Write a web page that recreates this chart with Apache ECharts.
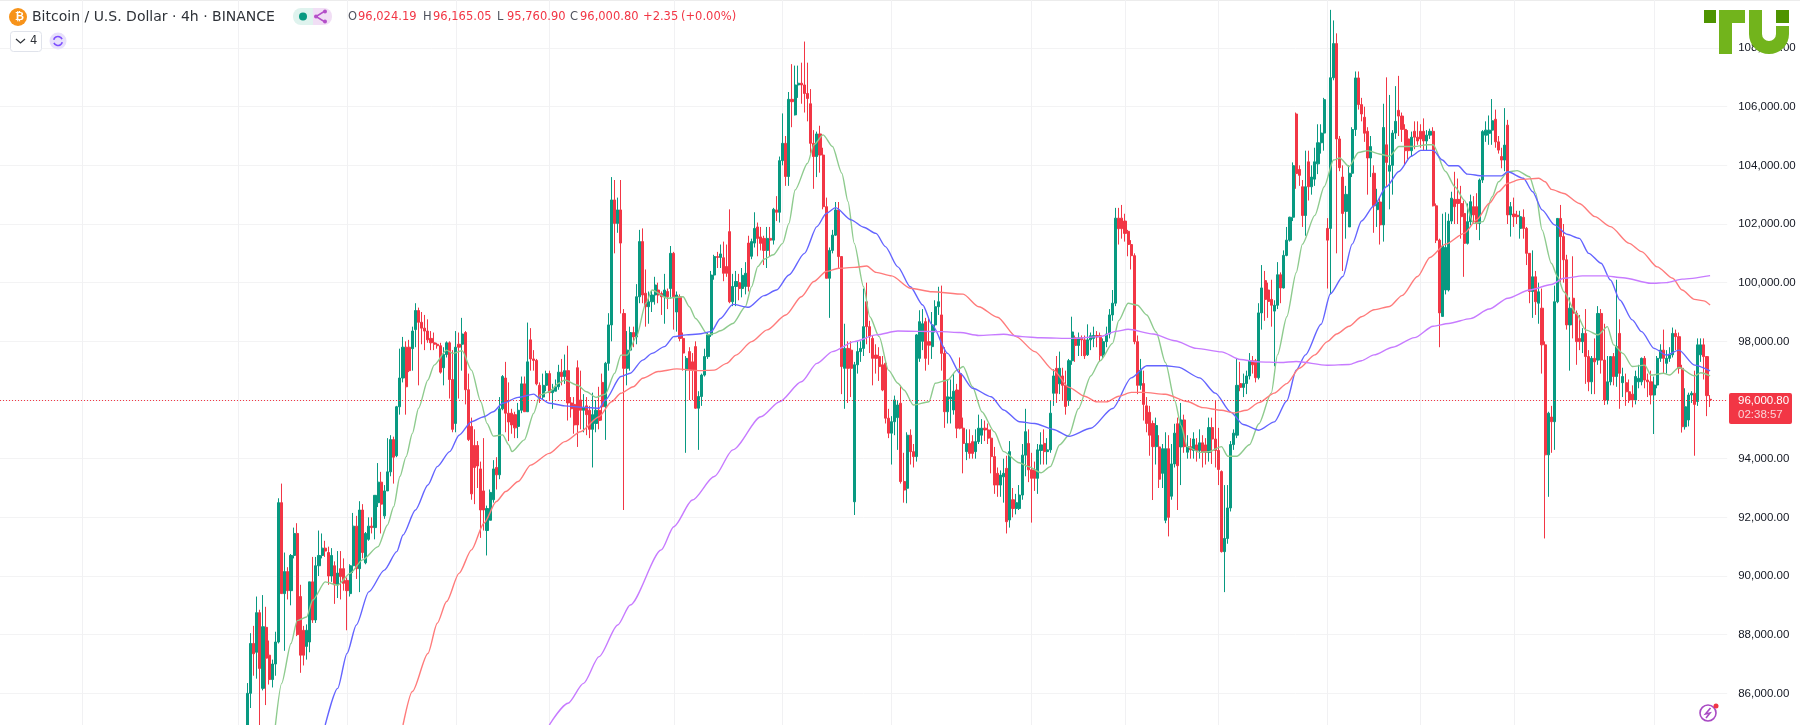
<!DOCTYPE html>
<html>

<head>
    <meta charset="utf-8">
    <title>Bitcoin / U.S. Dollar</title>
    <style>
        html, body { margin: 0; padding: 0; background: #fff; }
        #main { width: 1800px; height: 725px; }
    </style>
</head>

<body>
    <div id="main"></div>
    <script src="https://cdn.jsdelivr.net/npm/echarts@6/dist/echarts.min.js" charset="utf-8"></script>
    <script>
    // candles, [open, close, low, high]
    var barsA = [[84900,86000,84800,86350],[86000,87700,85500,88050],[87700,87350,86600,88300],[87400,88750,86500,89300],[88750,86850,84900,88850],[86170,88270,86100,89350],[88250,87200,85600,88950],[87300,86470,86300,87800],[86470,87000,86200,87150],[87000,87750,86600,88100],[87750,92500,87700,92650],[92500,89400,89400,93150],[89400,90150,87450,90800],[90150,89500,89200,90300],[89500,90700,89000,90750],[90700,91450,90600,91650],[91450,88000,87950,91800],[89300,87300,86700,89700],[88150,87300,86950,88300],[87600,88150,87150,88350],[87750,89800,87400,89800],[89800,88500,88400,90650],[88500,90350,88400,90650],[90350,90700,90000,91550],[90700,90950,90600,91450],[90950,90850,90650,91200],[90800,90000,89700,91000],[90000,90700,89800,90950],[90350,89700,89050,90500],[89700,90100,89250,90850],[90250,89980,89200,90850],[90250,89750,89500,90600]];
    var barsB = [[89850,89500,88150,89950],[89400,90350,89300,90400],[90350,91700,90100,92150],[91700,90250,89900,92050],[90250,92250,89450,92550],[92250,90800,90600,92450],[90450,91450,90400,91500],[91250,91700,91200,92000],[91700,91650,91450,92000],[91650,92750,91250,92750],[92500,93200,92350,93850],[93200,92450,91450,93550],[92050,92900,91950,93100],[92900,93550,92900,94700],[93550,94650,93400,94800],[94650,94050,93150,94750],[94100,95770,94050,95800],[95770,96750,95500,97750],[96750,97800,96600,98150],[97800,96450,95500,98000],[97800,97000,96950,98050],[97750,98350,97000,98500],[98400,99050,97800,99300],[99050,98650,96500,99150],[98650,98450,97900,99000],[98450,98350,97700,98900],[98350,98050,97950,98750],[98100,97950,97700,98350],[97950,97900,97700,98300],[97900,97850,97750,97950],[97850,96950,96900,97950],[97100,97550,96500,97800],[97550,97950,97450,98000],[97950,96700,96050,98000],[96700,95000,94900,97700]];
    var barsC = [[95200,97800,94900,98350],[97900,97800,96050,98300],[97900,98250,97000,98800],[98300,96350,95850,98350],[96350,94650,94600,96900],[95100,92800,92600,95400],[94450,93700,92450,95000],[94450,93750,93000,94600],[93650,92250,91300,93900],[92900,92250,91550,94700],[91550,92300,90700,92400],[91900,92850,91900,92950],[92600,93650,92500,93950],[93700,93450,92950,94050],[93450,95700,93300,96100],[95700,96800,95650,96850],[96750,95550,94900,97300],[95550,95250,94600,96600],[95550,95150,94850,95700],[95500,95050,94700,95600],[95100,95650,94700,95900],[95650,96550,95550,96800],[96550,95600,95600,96800],[95600,97300,95600,98640],[98050,97400,97000,98450],[97400,97350,97000,97700],[97350,96550,96500,97400],[96500,96050,95900,96600],[96100,96500,96000,96900],[96500,96900,96300,97000]];
    var barsD = [[96900,96250,96000,97000],[96250,96350,95700,96550],[96300,96450,96300,96700],[96450,96950,96350,97200],[96950,96800,96500,97400],[96800,97000,96550,97550],[97000,95900,95300,97850],[95900,95700,95400,96100],[95850,95150,94850,96100],[97100,95150,94400,97350],[96000,95650,95000,97000],[95650,95750,94900,96200],[95800,95500,94800,96100],[95650,95000,94700,95800],[95000,95500,93700,96250],[95200,95650,94900,96000],[95650,95300,95000,96450],[96600,95770,95300,96900],[95770,97250,94640,97300],[97250,98560,97000,98960],[98560,102820,98000,103600],[102820,102020,101000,103500],[102020,102480,101700,102900],[102480,101350,98950,103500],[98950,97080,92250,99100],[97080,97700,96500,98350],[97700,98300,97000,98500],[98300,98150,97800,98500],[98150,99520,97900,99950],[99520,101400,99300,101800],[101400,99580,99300,101850],[99640,99180,98500,100450],[99180,99350,98600,99700],[99350,99580,99000,99750],[99580,99920,99250,100200],[99750,99580,99300,100000],[99630,99520,98900,99700],[99520,99750,98600,100300],[99700,99520,99100,99800],[99800,101000,99450,101250]];
    var barsE = [[101000,99520,98400,101050],[99000,99580,98330,99700],[99520,98100,98000,99600],[98100,97600,97000,98300],[97020,97420,94200,97500],[97650,97020,96000,97800],[97300,97020,96000,97600],[97820,95720,95700,98000],[95720,96120,94300,96300],[96120,96850,95800,96900],[96850,97480,96800,97750],[97480,98220,97400,98300],[98220,100260,98150,100400],[100260,100890,100100,100950],[100890,100860,100500,101050],[100860,100980,100500,101300],[100850,100320,100050,101400],[100550,100320,100200,101300],[101740,99350,99300,102500],[99350,99870,99200,100300],[99870,100040,99200,100400],[100000,99800,99400,100300],[99800,100250,99500,100500],[99870,100320,99600,100700],[101350,99870,99700,101600],[100900,101400,100800,101500],[101350,101850,101200,102400],[101900,101510,100900,102050],[101560,101340,101100,101900],[101510,101100,100600,101600],[101100,101510,100500,101900],[101510,101450,100900,101900],[101450,102500,101300,102550],[102480,102400,102100,102950],[102400,104160,102050,104300]];
    var barsF = [[104160,104750,104000,105770],[104750,103620,103300,105000],[103620,106250,103300,106500],[106250,106170,105300,107450],[105720,106740,105700,107400],[106740,106800,106300,107400],[106800,106740,106100,107500],[106740,106450,105800,108220],[106450,106280,105500,107500],[106100,104750,104400,106600],[104750,104300,103200,105200],[104300,105070,103600,105150],[105070,104350,103750,105350],[104350,102590,102500,104600],[102590,100150,100150,102900],[100150,101100,98800,101200],[101100,101620,101000,101800],[101620,102480,101600,102750],[102480,100890,100500,102750],[100890,97140,96200,100900],[97080,97760,95700,98600],[97760,97080,95900,98000],[97700,97080,96100,98000],[92530,97200,92080,97300],[97200,97650,96900,98000],[97650,97760,97300,98000],[97760,98500,97500,99800],[99350,98500,97900,100000],[98500,98160,97600,98700],[98100,97420,96500,98200],[97530,97420,96900,97900],[97480,97140,96650,97800],[97200,96340,96300,97500],[97250,95380,95200,97300],[95380,94870,94700,95700]];
    var barsG = [[94870,95260,93800,95450],[95260,96000,94800,96150],[95400,95830,94300,96000],[95890,93220,93150,96500],[93220,92930,92500,94200],[92990,94800,92480,94900],[94800,94240,93800,95000],[94240,94070,93700,94500],[94070,98220,93900,98250],[97420,98670,97300,99060],[98000,98600,97700,99100],[98670,97420,97000,98800],[97990,97870,97200,98800],[97820,98560,97400,99000],[98560,99180,98300,99400],[99180,99350,98900,99860],[98900,97590,97000,99900],[97590,95600,95050,97800],[95600,96110,95200,96700],[96040,96100,95200,96700],[95660,96300,95500,96900],[96340,95040,94700,96550],[96900,95040,95000,97450],[95040,94520,93500,95400],[94240,94520,93950,95000],[94520,94180,94000,95000],[94580,94180,94000,94800],[94240,94580,94000,95000],[94580,95040,94500,95500],[94800,95040,94500,95350],[95040,94980,94600,95300],[94980,94700,94500,95200],[94700,94070,93500,95000],[94070,93100,92800,94400],[93500,93100,92700,93700],[93100,93440,92700,93600],[93380,93500,92500,94000],[93670,91850,91450,94100],[91910,94240,91650,94600],[92600,92300,92000,93000],[92300,92500,92100,92800],[92300,92760,92250,93100],[92760,94120,92600,94500],[94120,94920,93400,95700],[94520,93620,93200,95000]];
    var barsH = [[93620,93330,91820,94200],[93620,93330,92900,93900],[93330,94300,92800,94500],[94280,94470,93800,94900],[94520,94240,93800,95000],[94240,94300,93800,94700],[94300,95550,94200,96000],[96230,96820,95800,97050],[97080,96230,95900,97500],[96550,97080,96200,97650],[96820,96500,96000,97100],[96500,95780,95500,97000],[95980,97340,95800,97400],[97340,98320,97200,98840],[98120,97860,97300,98200],[97860,98120,97500,98300],[98120,98050,97500,98200],[98050,97510,97400,98200],[97540,98050,97500,98580],[98050,98190,97700,98300],[98100,98200,97800,98500],[98200,98150,97800,98350],[98190,97510,97300,98300],[97530,97990,97400,98100],[97990,98250,97800,98500],[98250,98900,98100,99100],[98900,99300,98700,99750],[99300,102200,99200,102550]];
    var barsI = [[102200,101840,101300,102550],[102200,101840,101500,102650],[102100,101680,101400,102350],[101750,101300,100900,101800],[101300,100920,100450,101450],[100920,97990,97900,101000],[97990,96500,96200,98200],[96500,97010,96350,97400],[96560,95850,95300,97000],[95800,95200,94900,96100],[95580,94800,94100,95800],[95200,94410,92590,95300],[94410,95130,93800,95400],[94400,93300,93000,94800],[93500,94340,93000,94500],[91900,94340,91800,94900],[94340,92000,91350,94800],[92720,93820,92600,94500],[93820,94870,93700,95190],[95190,93760,92250,95400],[94400,95320,93100,95900],[95320,94410,94200,95500],[94220,94410,94000,94800],[94410,94300,94000,94700],[94280,94670,94000,94900],[94470,94280,93900,94700],[94280,94540,94000,95000],[94540,94210,93700,94800],[94470,94210,93800,94700],[94210,95060,93900,95400],[95060,94670,93820,95400],[94670,94280,93700,96000],[94280,93630,93100,95050]];
    var barsJ = [[93560,90830,90800,93600],[90830,91280,89450,93100],[91280,92320,91100,93100],[92320,94480,92200,94600],[94480,94870,94300,95000],[94800,96500,94700,97400],[96560,96430,96300,97300],[96430,96560,96100,96900],[96560,96820,96200,97000],[96820,97340,96700,97600],[97340,97200,96900,97500],[97340,96760,96600,97400],[96760,98970,96700,99300],[98970,99820,98400,100600],[100070,99430,98700,100400],[99750,99360,98800,100000],[99430,99230,98500,100100],[99030,99230,97150,99400],[99230,100270,99100,100700],[100270,99820,99300,100350],[99820,100930,99800,101100],[100930,101450,100900,101900],[101450,102230,101400,102250],[102230,103990,102100,104100],[105750,103720,103200,105800],[103860,103660,103300,104000],[103270,102290,101900,103500],[102290,103270,101600,104500],[104120,103270,102800,104500],[103270,103600,103000,104000],[103530,104120,103300,104600],[104050,104770,103700,105400],[104770,105100,104400,105400],[105100,106240,104500,106300],[101850,101450,99800,102200]];
    var barsK = [[101850,106985,99600,109300],[106985,108150,106900,108940],[108150,104900,101000,108500],[104900,103920,103800,105000],[103600,102360,100400,104000],[102430,103010,101500,103300],[101900,103730,101900,104000],[103730,105220,103600,105300],[105220,106980,105000,107200],[106980,106070,105900,107200],[106070,105750,105500,106300],[105640,105095,104800,106000],[105160,104250,103000,105300],[104250,104640,103600,105000],[103730,102620,101700,104000],[102489,102750,101900,103200],[102750,101970,101300,102900],[101970,105290,101400,106100],[104700,104100,103300,107000],[103800,104000,102500,106400],[104000,105100,103000,105200],[105100,105500,104900,106700],[105875,105680,105000,107050],[105680,105225,104800,105800],[105225,104500,104000,105400],[104900,104500,104200,105200],[104500,104960,104300,105150],[105160,104960,104550,105500],[104960,104830,104700,105500],[105160,104900,104600,105400],[105160,104830,104500,105600],[104830,105030,104500,105200],[105030,105160,104900,105250]];
    var barsL = [[105160,102620,102600,105300],[102620,101450,101350,102700],[101450,98970,97800,101500],[98850,101250,98850,102350],[99750,101200,99600,102400],[99750,102100,99700,102350],[102100,102880,102000,103100],[102840,102590,102000,103780],[102840,102700,102000,103550],[102700,102250,101500,103300],[102360,101340,100200,102800],[101340,102080,101300,102700],[102080,102760,101950,103000],[102590,102310,102000,102950],[102590,102020,101800,103050],[102020,103500,101450,103550],[103500,105150,103400,105200],[105030,105200,104800,105500],[105090,105200,104700,105700],[105200,105520,104700,106260],[105570,104800,104600,105900],[104800,104520,104400,105000],[104300,104180,103900,104600],[104180,104690,103800,105950],[105370,102310,102000,105550],[102310,102590,101570,102750],[102340,102250,101900,102900],[102300,102250,102000,102450],[101850,102250,101500,102450],[102230,101850,101500,102500]];
    var barsM = [[101850,101000,100600,101900],[101000,99700,99300,101000],[99700,100200,98800,101100],[100200,99350,98900,100400],[99300,99690,98600,100000],[99130,97880,96900,99800],[97880,94130,91280,98000],[94130,95550,92700,95600],[95420,95260,94200,95800],[95260,99350,94300,99900],[99350,102190,99300,102200],[102190,101570,100000,102650],[101570,100780,100000,102000],[100780,98560,98400,100950],[98560,99130,97000,99500],[99470,98960,98100,100900],[98960,97990,97200,99050],[98100,97990,97700,98900],[97990,98270,97600,98450],[98270,97480,96550,99100],[97480,96620,96300,97700],[96620,97420,96200,97500],[97420,97300,96200,98100],[97360,98950,97200,99200],[98950,97360,96900,99100],[97360,96000,95830,98600],[96000,96620,95850,97500],[96620,97480,96500,97500],[97480,96800,96500,97600],[96800,97820,96450,100100],[98270,96910,95700,98750],[96590,96800,96100,97100],[96590,96280,95800,96900],[96280,96000,95900,96700],[96200,96000,95750,96500],[96000,96800,95850,97000],[96620,96740,96400,97200],[96620,97420,96500,97450],[97420,96680,96400,97500],[96680,96620,96100,96900],[96620,96170,95850,97000],[96170,96510,94840,96800],[96510,97420,96400,97500],[97420,97700,97300,97900],[97700,97420,96900,98400]];
    var barsN = [[97250,97420,96900,97700],[97420,97540,97300,97800],[97540,98270,97450,98470],[98270,98160,97700,98400],[98160,97080,96900,98300],[97080,95090,94890,97200],[95090,95770,94990,96400],[95320,96170,95100,96250],[96170,96230,95900,96300],[96230,95850,94100,97000],[95950,97880,95800,98100],[97540,97880,97300,98100],[97880,97480,96700,98100],[97480,96150,95450,97500],[96024.19,96000.80,95760.90,96165.05]];

    // moving averages as [bar, price], read at the bends of each line
    var maGreen = [[9,84920],[11,86340],[14,87700],[16,88480],[19,88600],[21,89180],[25,89800],[29,89690],[33,90090],[37,90550],[42,91000],[45,91740],[47,92360],[49,93390],[51,94070],[53,94860],[55,95720],[58,96680],[60,97190],[64,97700],[66,97590],[69,97680],[72,97020],[75,95940],[77,95200],[79,94770],[82,94810],[84,94470],[85,94240],[89,94640],[92,95550],[94,96170],[97,96280],[100,96570],[102,96680],[106,96510],[109,96280],[112,96090],[115,96200],[118,96910],[120,97530],[122,97530],[125,98160],[128,99290],[130,99750],[135,99470],[140,99520],[142,99180],[144,98780],[148,98220],[150,98270],[152,98360],[156,98610],[160,99180],[162,99860],[164,100550],[166,100800],[169,100950],[172,101340],[174,102020],[176,103160],[180,104070],[182,104690],[185,105040],[188,104640],[191,103730],[193,102760],[195,101340],[198,99860],[200,98840],[203,98160],[206,97020],[209,96570],[211,96340],[214,95830],[219,95940],[221,96570],[225,96680],[228,97020],[230,97140],[233,96450],[236,95600],[240,94920],[243,94240],[248,93860],[251,93730],[255,93520],[258,93730],[261,94475],[264,94800],[267,95700],[271,96820],[274,97340],[278,97930],[280,98710],[283,99300],[286,99230],[289,98900],[292,98320],[295,97275],[298,95975],[300,95130],[302,94410],[306,94215],[309,94240],[313,94410],[315,94085],[318,94085],[322,94475],[325,95190],[329,96235],[331,97540],[334,98840],[337,100340],[339,101315],[343,102295],[346,103270],[349,104180],[351,104250],[354,103960],[357,104440],[360,104500],[364,104380],[367,104310],[370,104640],[375,104640],[379,104700],[381,104700],[385,103790],[388,103270],[391,102815],[394,102020],[397,102080],[400,102930],[402,103440],[405,103780],[408,103820],[412,103610],[414,103040],[416,101800],[419,100660],[421,100200],[423,99690],[427,98950],[430,98390],[434,98220],[437,98500],[439,97880],[442,97590],[445,97140],[449,97190],[451,96850],[455,96910],[457,96850],[460,97110],[465,96820],[467,96930],[470,96820]];
    var maBlue = [[25,84920],[29,86170],[32,87360],[35,88330],[39,89460],[44,90200],[48,90830],[50,91400],[54,92250],[58,93100],[61,93730],[65,94240],[68,94800],[72,95260],[76,95430],[79,95600],[82,95890],[87,96090],[92,96200],[94,96060],[97,95890],[102,95800],[108,95750],[113,95720],[115,96000],[120,96800],[123,96910],[127,97360],[130,97590],[134,97820],[137,98160],[141,98220],[145,98250],[149,98330],[152,98780],[156,99260],[161,99160],[166,99560],[170,99750],[174,100260],[179,101000],[183,101910],[186,102360],[189,102560],[194,102140],[198,101890],[202,101680],[205,101230],[209,100540],[213,99860],[217,99240],[220,98560],[225,97590],[229,96910],[233,96400],[239,96110],[243,95660],[248,95260],[253,95200],[259,94995],[264,94760],[271,95035],[278,95710],[284,96755],[289,97170],[295,97170],[299,97120],[306,96755],[311,96235],[316,95585],[320,95165],[325,94970],[330,95255],[334,95975],[337,97015],[340,97540],[345,98580],[348,99620],[352,100210],[355,101315],[358,102100],[362,102620],[366,103270],[370,103790],[374,104310],[377,104510],[381,104510],[384,104180],[386,103985],[389,103985],[392,103700],[397,103640],[403,103640],[405,103780],[410,103560],[413,103100],[416,102480],[420,101970],[424,101650],[428,101510],[431,101000],[435,100660],[438,100090],[441,99410],[445,98730],[448,98330],[452,97760],[456,97530],[460,97700],[465,97190],[470,96990]];
    var maRed = [[50,84920],[53,86060],[58,87360],[61,88390],[64,89130],[68,90090],[72,90890],[76,91800],[80,92540],[83,92880],[87,93220],[91,93780],[97,94180],[102,94580],[107,94920],[113,95430],[117,95940],[120,96230],[124,96450],[127,96740],[132,96970],[138,97060],[145,97000],[150,97020],[154,97250],[157,97530],[162,97990],[167,98390],[173,98900],[178,99520],[182,100040],[186,100380],[190,100490],[195,100520],[199,100570],[202,100350],[207,100230],[213,99810],[220,99690],[230,99610],[235,99180],[241,98820],[247,98160],[253,97650],[259,97015],[264,96430],[269,96130],[273,95935],[276,95935],[280,96130],[284,96260],[288,96260],[295,96195],[302,95950],[307,95740],[313,95650],[317,95560],[321,95650],[325,95910],[330,96235],[334,96560],[338,97080],[343,97540],[347,97990],[350,98250],[354,98515],[358,98840],[362,99075],[367,99190],[371,99560],[376,100210],[380,100860],[385,101315],[391,101680],[395,102140],[399,102700],[402,103100],[405,103390],[409,103520],[415,103560],[417,103440],[419,103180],[423,103040],[428,102700],[433,102250],[438,101910],[444,101340],[448,101060],[453,100540],[458,100150],[461,99750],[465,99430],[468,99380],[470,99240]];
    var maPurple = [[97,84920],[103,85660],[108,86340],[113,87250],[119,88330],[123,89010],[133,90890],[137,91680],[143,92590],[150,93390],[156,94300],[165,95430],[171,95940],[178,96620],[183,97250],[188,97650],[195,97990],[202,98220],[209,98350],[216,98340],[223,98330],[229,98300],[235,98200],[243,98240],[249,98160],[255,98120],[265,98100],[274,98160],[279,98340],[283,98410],[291,98250],[298,98020],[305,97760],[313,97640],[319,97380],[325,97300],[332,97280],[337,97315],[347,97185],[354,97210],[358,97340],[362,97540],[368,97800],[375,98125],[381,98515],[386,98610],[393,98775],[399,99100],[405,99470],[412,99750],[419,99940],[423,100150],[429,100230],[436,100230],[442,100170],[451,99980],[456,100000],[461,100120],[470,100240]];

    var lastPrice = 96000.80;
    var priceTicks = [84000, 110000, 2000];
    var firstBar = 79;
    var barCount = 555;
    var weekBars = [26, 76, 111, 146, 176, 216, 251, 286, 331, 361, 391, 426, 456, 486, 531];
    var ohlcLabels = [['O', '96,024.19', 348], ['H', '96,165.05', 423], ['L', '95,760.90', 497], ['C', '96,000.80', 570]];

    var candles = barsA.concat(barsB, barsC, barsD, barsE, barsF, barsG, barsH, barsI, barsJ, barsK, barsL, barsM, barsN);
    var categories = [];
    for (var i = 0; i < barCount; i++) categories.push(String(i));
    var padded = [];
    for (var j = 0; j < firstBar; j++) padded.push('-');
    padded = padded.concat(candles);

    function maSeries(points, color) {
        return {
            type: 'line',
            data: points.map(function (p) { return [p[0] + firstBar, p[1]]; }),
            smooth: 0.25,
            smoothMonotone: 'x',
            showSymbol: false,
            silent: true,
            lineStyle: { color: color, width: 1.4 },
            z: 3
        };
    }

    function txt(text, x, y, fill, font) {
        return { type: 'text', silent: true, z: 20, style: { text: text, x: x, y: y, fill: fill, font: font, textVerticalAlign: 'middle' } };
    }

    function box(x, y, w, h, fill, r) {
        return { type: 'rect', silent: true, z: 19, shape: { x: x, y: y, width: w, height: h, r: r || 0 }, style: { fill: fill } };
    }

    var uiFont = '"DejaVu Sans", sans-serif';
    var header = [
        { type: 'line', silent: true, shape: { x1: 0, y1: 0.5, x2: 1800, y2: 0.5 }, style: { stroke: '#ececec', lineWidth: 1 } },
        { type: 'circle', silent: true, z: 19, shape: { cx: 18, cy: 17, r: 9 }, style: { fill: '#f7931a' } },
        txt('₿', 15, 17, '#ffffff', 'bold 11px ' + uiFont),
        txt('Bitcoin / U.S. Dollar · 4h · BINANCE', 32, 17, '#2e3238', '14px ' + uiFont),
        box(293, 8, 20, 17, '#dff3ee', [8, 0, 0, 8]),
        box(313, 8, 19, 17, '#f1def5', [0, 8, 8, 0]),
        { type: 'circle', silent: true, z: 20, shape: { cx: 303, cy: 16.5, r: 4 }, style: { fill: '#089981' } },
        { type: 'polyline', silent: true, z: 20, shape: { points: [[325, 11], [316, 16.5], [325, 22]] }, style: { stroke: '#b44fc9', lineWidth: 1.5, fill: 'none' } },
        { type: 'circle', silent: true, z: 20, shape: { cx: 325, cy: 11.5, r: 2 }, style: { fill: '#b44fc9' } },
        { type: 'circle', silent: true, z: 20, shape: { cx: 316, cy: 16.5, r: 2 }, style: { fill: '#b44fc9' } },
        { type: 'circle', silent: true, z: 20, shape: { cx: 325, cy: 21.5, r: 2 }, style: { fill: '#b44fc9' } },
        { type: 'rect', silent: true, z: 19, shape: { x: 10.5, y: 31.5, width: 31, height: 20, r: 3 }, style: { fill: '#fff', stroke: '#e0e3eb' } },
        { type: 'polyline', silent: true, z: 20, shape: { points: [[16, 39], [20.5, 43], [25, 39]] }, style: { stroke: '#2e3238', lineWidth: 1.2, fill: 'none' } },
        txt('4', 30, 41.5, '#2e3238', '11.5px ' + uiFont),
        { type: 'circle', silent: true, z: 19, shape: { cx: 58, cy: 41, r: 8.5 }, style: { fill: '#e7e0fb' } },
        { type: 'arc', silent: true, z: 20, shape: { cx: 58, cy: 41, r: 4.5, startAngle: 0.3, endAngle: 2.7 }, style: { stroke: '#7c4dff', lineWidth: 1.6, fill: 'none' } },
        { type: 'arc', silent: true, z: 20, shape: { cx: 58, cy: 41, r: 4.5, startAngle: 3.44, endAngle: 5.84 }, style: { stroke: '#7c4dff', lineWidth: 1.6, fill: 'none' } },
        txt('+2.35', 643, 17, '#f23645', '11.5px ' + uiFont),
        txt('(+0.00%)', 681, 17, '#f23645', '11.5px ' + uiFont),

        // logo
        box(1704, 10, 12, 13, '#4e9400'),
        box(1719, 10, 26, 13, '#72b41c'),
        box(1719, 10, 13, 44, '#72b41c'),
        box(1776, 10, 13, 13, '#4e9400'),
        box(1749, 10, 13, 24, '#72b41c'),
        box(1776, 26, 13, 8, '#72b41c'),
        { type: 'sector', silent: true, z: 19, shape: { cx: 1769, cy: 34, r: 20, r0: 7, startAngle: 0, endAngle: Math.PI, clockwise: true }, style: { fill: '#72b41c' } },

        // last price tag
        { type: 'rect', silent: true, z: 19, shape: { x: 1729, y: 393, width: 63, height: 31, r: 2 }, style: { fill: '#f23645' } },
        txt('96,000.80', 1738, 401, '#ffffff', '11.5px "Liberation Sans", sans-serif'),
        txt('02:38:57', 1738, 415, '#fbd3d7', '11.5px "Liberation Sans", sans-serif'),

        // bolt badge
        { type: 'circle', silent: true, z: 19, shape: { cx: 1708, cy: 713, r: 8 }, style: { fill: '#fff', stroke: '#a94bc4', lineWidth: 1.6 } },
        { type: 'polyline', silent: true, z: 20, shape: { points: [[1710.5, 708], [1705.5, 714], [1710, 713], [1706, 718]] }, style: { stroke: '#a94bc4', lineWidth: 1.6, fill: 'none' } },
        { type: 'circle', silent: true, z: 20, shape: { cx: 1716, cy: 706, r: 2.5 }, style: { fill: '#f23645' } }
    ];
    ohlcLabels.forEach(function (o) {
        header.push(txt(o[0], o[2], 17, '#50535e', '11.5px ' + uiFont));
        header.push(txt(o[1], o[2] + 10, 17, '#f23645', '11.5px ' + uiFont));
    });

    var myChart = echarts.init(document.getElementById('main'), null, { renderer: 'canvas' });
    var option = {
        animation: false,
        backgroundColor: '#ffffff',
        grid: { left: 0, top: -10.66, width: 1727.2, height: 762.66, outerBoundsMode: 'none' },
        xAxis: {
            type: 'category',
            data: categories,
            axisLine: { show: false },
            axisTick: { show: false },
            axisLabel: { show: false },
            splitLine: {
                show: true,
                alignWithLabel: true,
                interval: function (index) { return weekBars.indexOf(index) >= 0; },
                lineStyle: { color: '#f1f1f3', width: 1 }
            }
        },
        yAxis: {
            type: 'value',
            position: 'right',
            min: priceTicks[0],
            max: priceTicks[1],
            interval: priceTicks[2],
            axisLine: { show: false },
            axisTick: { show: false },
            axisLabel: {
                margin: 11,
                color: '#131722',
                fontFamily: 'Liberation Sans',
                fontSize: 11.5,
                formatter: function (v) { return v.toLocaleString('en-US') + '.00'; }
            },
            splitLine: { lineStyle: { color: '#f3f3f4', width: 1 } }
        },
        series: [
            {
                type: 'candlestick',
                data: padded,
                barWidth: 2.6,
                silent: true,
                itemStyle: { color: '#089981', color0: '#f23645', borderColor: '#089981', borderColor0: '#f23645', borderWidth: 1 },
                z: 2,
                markLine: {
                    silent: true,
                    symbol: 'none',
                    label: { show: false },
                    lineStyle: { color: '#f23645', type: [1, 2], width: 1 },
                    data: [{ yAxis: lastPrice }]
                }
            },
            maSeries(maGreen, '#8ecb8e'),
            maSeries(maBlue, '#6464ff'),
            maSeries(maRed, '#ff7b7b'),
            maSeries(maPurple, '#c77bff')
        ],
        graphic: header
    };
    myChart.setOption(option);
    </script>
</body>

</html>
